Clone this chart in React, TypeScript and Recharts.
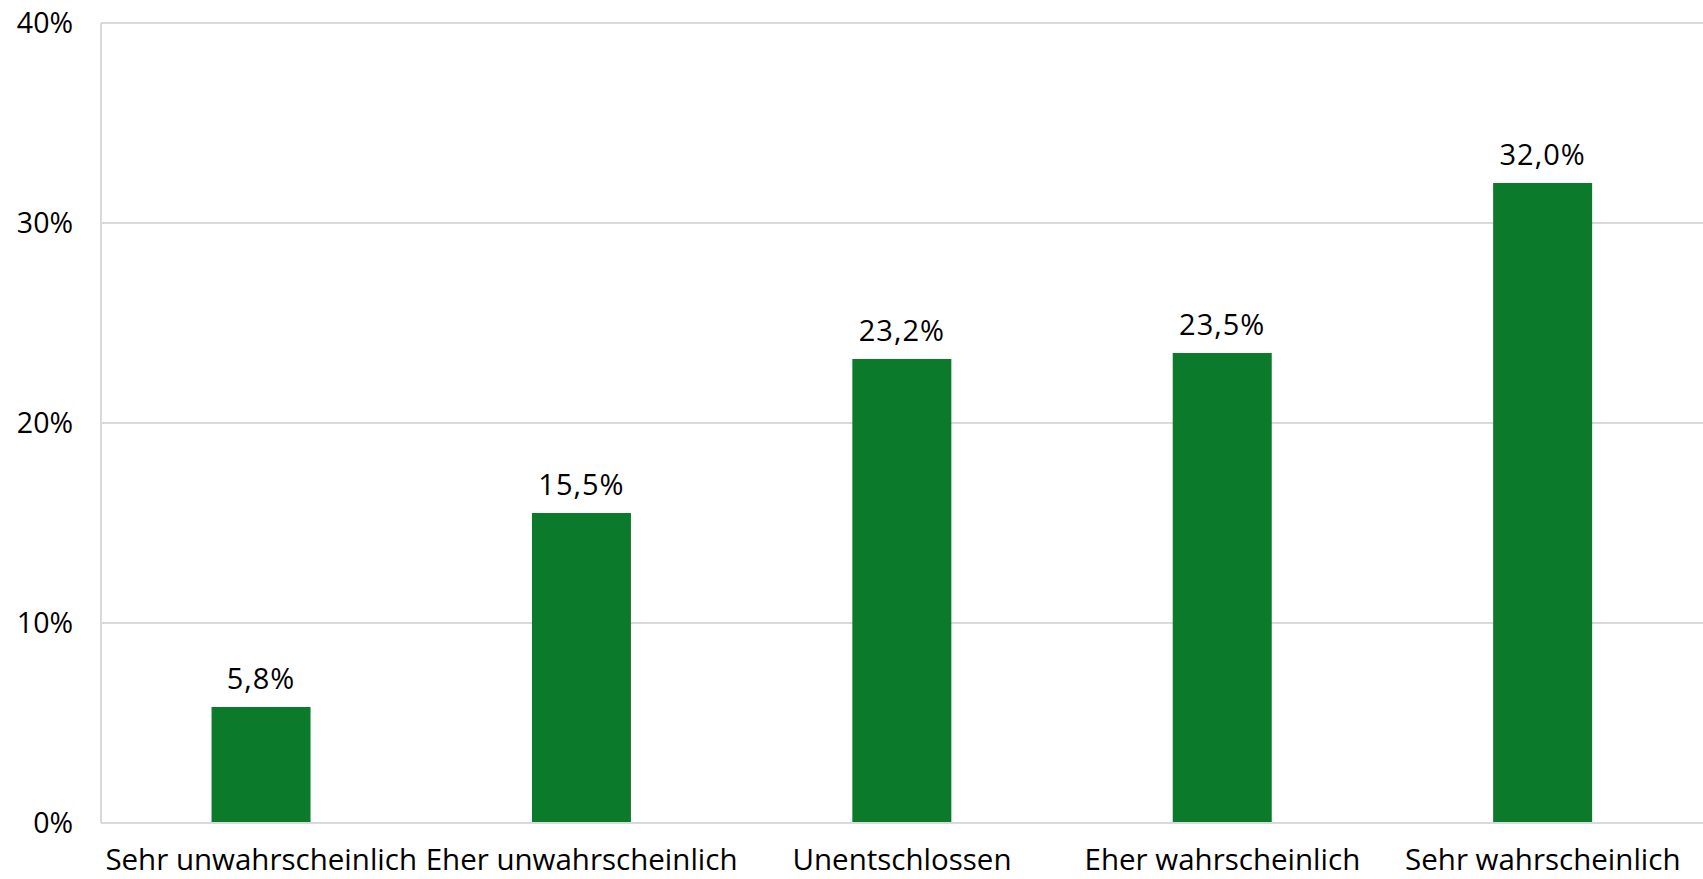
import React from "react";
import { BarChart, Bar, XAxis, YAxis, CartesianGrid, LabelList } from "recharts";

const categories = [
  "Sehr unwahrscheinlich",
  "Eher unwahrscheinlich",
  "Unentschlossen",
  "Eher wahrscheinlich",
  "Sehr wahrscheinlich",
];
const values = [5.8, 15.5, 23.2, 23.5, 32.0];
const yTicks = [0, 10, 20, 30, 40];

const data = categories.map((c, i) => ({ name: c, value: values[i] }));

const FONT = "'Open Sans', sans-serif";
const fmt = (v: number) => v.toFixed(1).replace(".", ",") + "%";

export default function App() {
  return (
    <div style={{ position: "absolute", top: 0, left: 0, width: 1703, height: 879, background: "#fff", fontFamily: FONT }}>
      <BarChart
        width={1703}
        height={879}
        data={data}
        margin={{ top: 23, right: 0, left: 0, bottom: 0 }}
        barCategoryGap="34.5%"
        style={{ overflow: "visible" }}
      >
        <CartesianGrid vertical={false} stroke="#d9d9d9" strokeWidth={2} />
        <XAxis
          dataKey="name"
          height={56}
          axisLine={{ stroke: "#d9d9d9", strokeWidth: 2 }}
          tickLine={false}
          tickMargin={20}
          interval={0}
          tick={{ fill: "#000", fontSize: 29.5, fontFamily: FONT }}
        />
        <YAxis
          width={101}
          domain={[0, 40]}
          ticks={yTicks}
          tickFormatter={(v: number) => v + "%"}
          axisLine={{ stroke: "#d9d9d9", strokeWidth: 2 }}
          tickLine={false}
          tickMargin={22}
          tick={{ fill: "#000", fontSize: 28.5, fontFamily: FONT }}
        />
        <Bar dataKey="value" fill="#0b7a2a" isAnimationActive={false}>
          <LabelList
            dataKey="value"
            position="top"
            offset={18}
            formatter={(v: number) => fmt(v)}
            style={{ fill: "#000", fontSize: 29, fontFamily: FONT, letterSpacing: 1 }}
          />
        </Bar>
      </BarChart>
    </div>
  );
}
